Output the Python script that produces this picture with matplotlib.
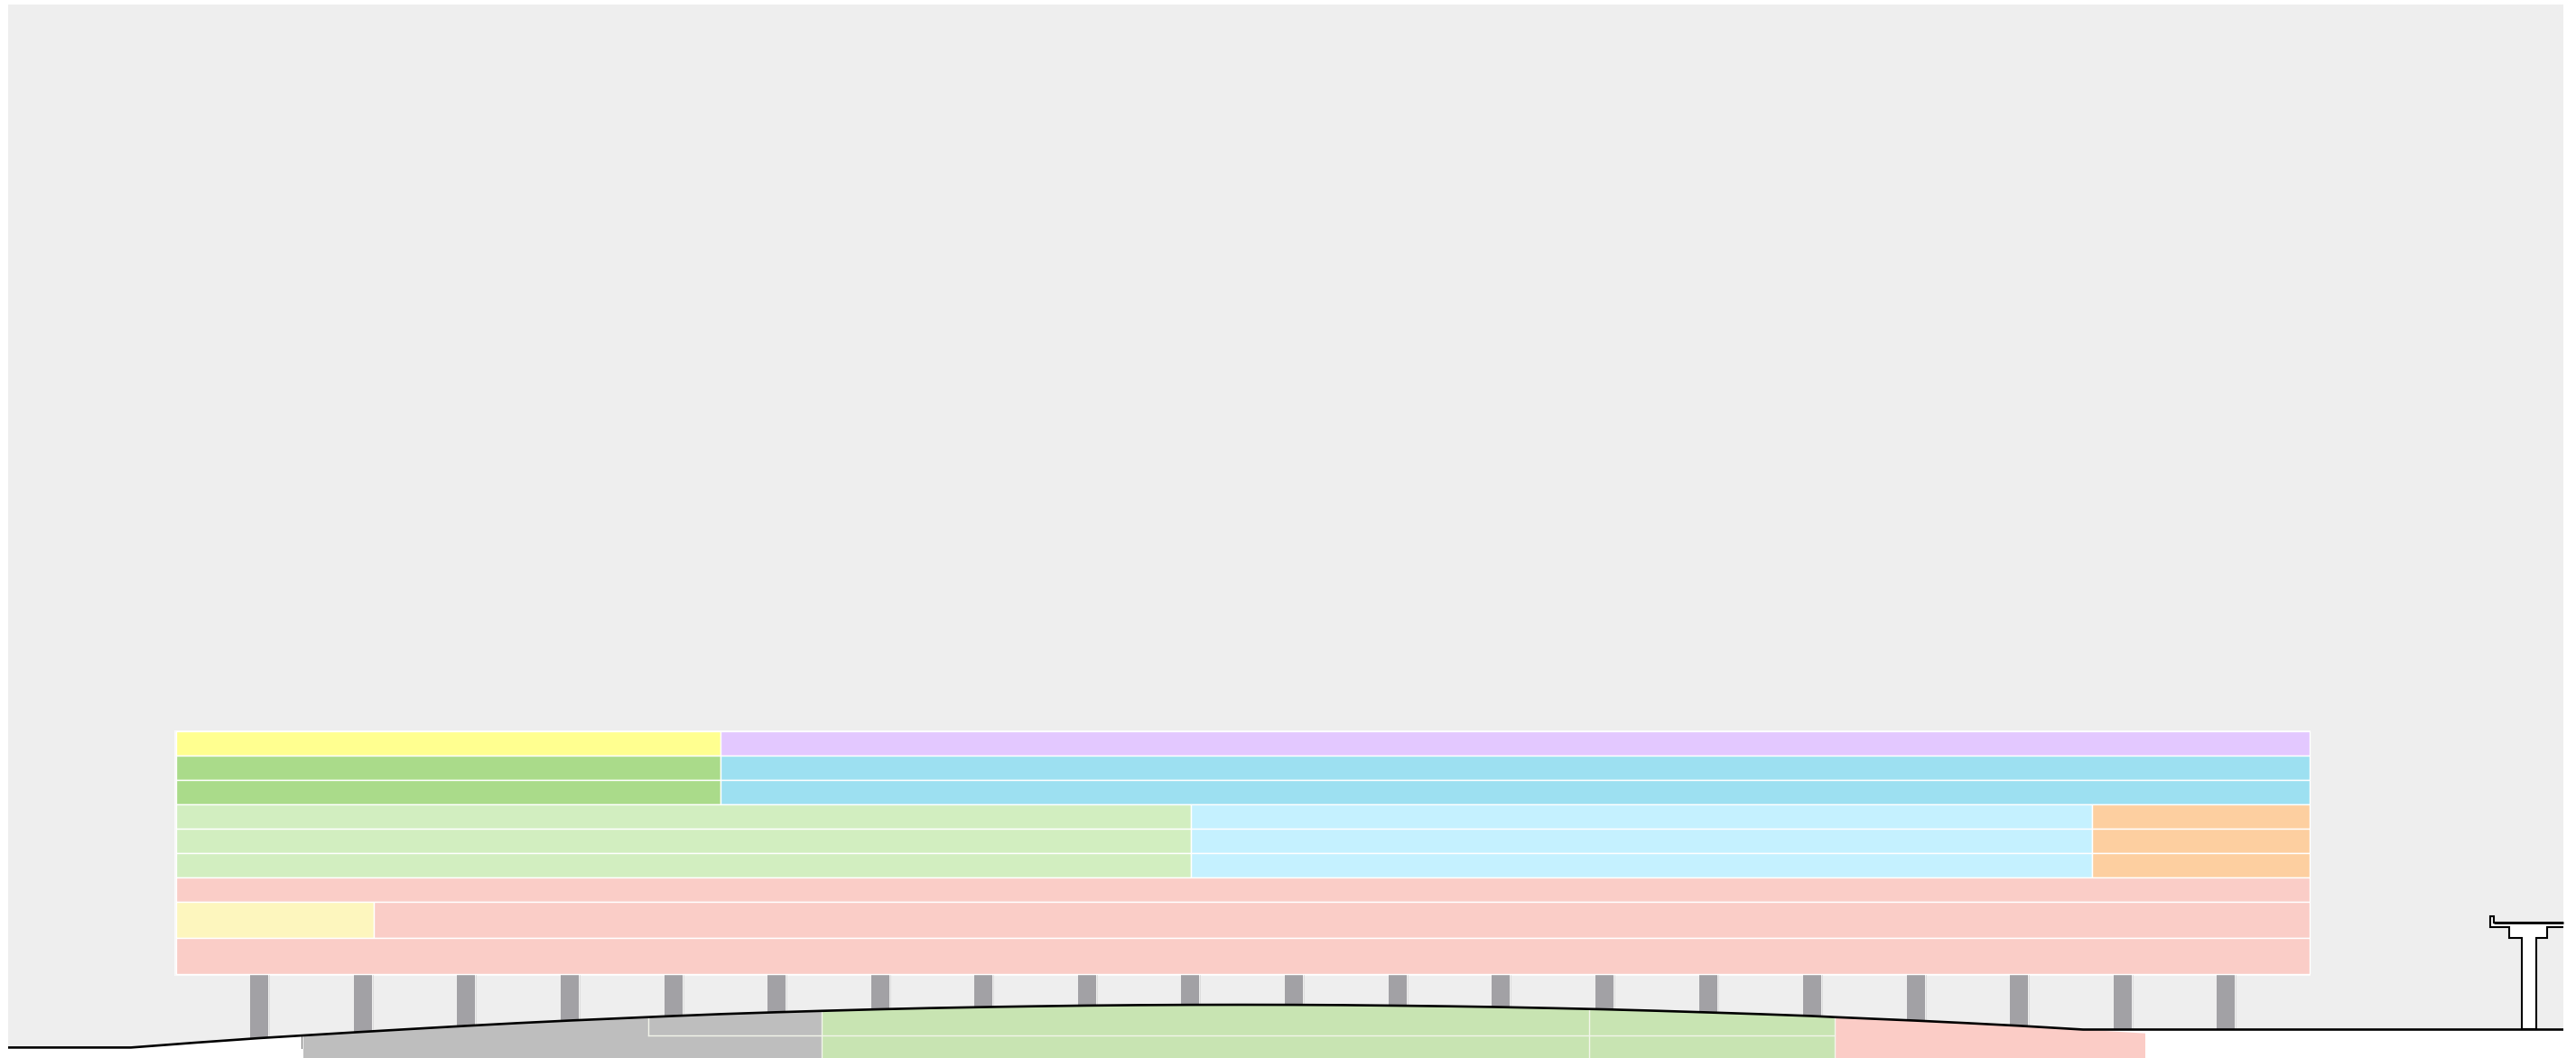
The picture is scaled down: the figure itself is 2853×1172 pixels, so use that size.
import matplotlib
matplotlib.use("Agg")
import matplotlib.pyplot as plt
from matplotlib.patches import Rectangle
import numpy as np

W, H = 2853, 1172

# Colours
BG = "#EEEEEE"
YELLOW = "#FFFF90"
CREAM = "#FDF6BE"
GREEN = "#AADB8A"
LGREEN = "#D2EEC0"
PINK = "#FACDC7"
PURPLE = "#E3C8FF"
BLUE = "#9DE0F1"
LBLUE = "#C5F1FF"
ORANGE = "#FDCFA0"
PIER = "#A2A1A5"
GREY = "#BEBEBE"
GGREEN = "#C8E4B2"
GPINK = "#FBCCC6"

# Block row edges (top to bottom)
row_edges = [810, 837, 864, 891, 918, 945, 972, 999, 1039.3, 1079.3]
# Each row: list of (x start, x end, colour)
x_left, x_a, x_y, x_b, x_c, x_right = 194.5, 797.8, 413.7, 1319, 2316.7, 2557.7
rows = [
    [(x_left, x_a, YELLOW), (x_a, x_right, PURPLE)],
    [(x_left, x_a, GREEN), (x_a, x_right, BLUE)],
    [(x_left, x_a, GREEN), (x_a, x_right, BLUE)],
    [(x_left, x_b, LGREEN), (x_b, x_c, LBLUE), (x_c, x_right, ORANGE)],
    [(x_left, x_b, LGREEN), (x_b, x_c, LBLUE), (x_c, x_right, ORANGE)],
    [(x_left, x_b, LGREEN), (x_b, x_c, LBLUE), (x_c, x_right, ORANGE)],
    [(x_left, x_right, PINK)],
    [(x_left, x_y, CREAM), (x_y, x_right, PINK)],
    [(x_left, x_right, PINK)],
]

# Piers
pier_x = [287, 402, 516, 631, 746, 860, 975, 1089, 1204, 1318, 1433, 1548, 1662,
          1777, 1892, 2007, 2122, 2236, 2351, 2465]
pier_width = 20
pier_top = 1079.3
pier_bottom = 1155

# Ground profile
ground_x = [9, 145, 215, 287, 336, 402, 460, 516, 574, 631, 717.5, 745, 800, 860, 910, 975,
            1030, 1089, 1145, 1204, 1260, 1318, 1375, 1433, 1490, 1548, 1605, 1662, 1720, 1760,
            1777, 1835, 1892, 1950, 2007, 2032, 2080, 2122, 2180, 2236, 2270, 2307, 2839]
ground_y = [1160.4, 1160.4, 1155.1, 1150, 1147, 1143, 1139.6, 1136.4, 1133.3, 1130.5, 1126.7,
            1125.5, 1123.3, 1121.3, 1119.8, 1118, 1116.7, 1115.6, 1114.7, 1113.9, 1113.4,
            1113.1, 1113, 1113.1, 1113.4, 1114, 1114.7, 1115.6, 1116.8, 1117.7, 1118.1, 1119.7,
            1121.5, 1123.4, 1125.5, 1126.7, 1128.8, 1130.6, 1133.4, 1136.3, 1138.3, 1140.5, 1140.5]

# T-shaped pier outline: from the right end of the deck, round the curb, back along the soffit
tee_x = [2839, 2761.7, 2761.7, 2757.7, 2757.7, 2779, 2779, 2793.3, 2793.3, 2809.3, 2809.3,
         2820.7, 2820.7, 2839]
tee_y = [1022.3, 1022.3, 1015, 1015, 1026.7, 1026.7, 1039, 1039, 1140, 1140, 1039,
         1039, 1026.7, 1026.7]
deck_x = [2761.7, 2839]
deck_y = [1022.3, 1022.3]

fig = plt.figure(figsize=(W / 100, H / 100), dpi=100, facecolor="white")
ax = fig.add_axes([0, 0, 1, 1])
ax.set_xlim(0, W)
ax.set_ylim(H, 0)
ax.axis("off")

ax.add_patch(Rectangle((9, 4.5), 2830, H - 4.5, fc=BG, ec="none", zorder=0))

# Blocks
ax.add_patch(Rectangle((x_left - 1.3, row_edges[0] - 1.3), x_right - x_left + 2.6,
                       row_edges[-1] - row_edges[0] + 2.6, fc="#F9F9F9", ec="none", zorder=1))
for i, row in enumerate(rows):
    for x0, x1, c in row:
        ax.add_patch(Rectangle((x0, row_edges[i]), x1 - x0, row_edges[i + 1] - row_edges[i],
                               fc=c, ec="white", lw=1.0, zorder=2))

# Piers
for p in pier_x:
    ax.add_patch(Rectangle((p - pier_width / 2, pier_top), pier_width, pier_bottom - pier_top,
                           fc=PIER, ec="none", zorder=1.5))
    ax.plot([p + pier_width / 2 + 0.5] * 2, [pier_top, pier_bottom], color="#DDDDDD", lw=0.7, zorder=1.4)

# Ground
gx = np.array(ground_x, float)
gy = np.array(ground_y, float)
ax.fill_between(gx, gy, H, fc="white", ec="none", zorder=3)
m = (gx >= 336) & (gx <= 910)
ax.fill_between(gx[m], gy[m], H, fc=GREY, ec="none", zorder=3.1)
m = (gx >= 910) & (gx <= 2032)
ax.fill_between(gx[m], gy[m], H, fc=GGREEN, ec="none", zorder=3.1)
m = (gx >= 2032) & (gx <= 2307)
pink_x = list(gx[m]) + [2376, 2376, 2032]
pink_y = list(gy[m]) + [1144.7, H, H]
ax.fill(pink_x, pink_y, fc=GPINK, ec="none", zorder=3.1)

# White section lines
sep = "#F2F5EA"
ax.plot([717.5, 717.5], [1126.7, 1146.7], color=sep, lw=1.0, zorder=3.2)
ax.plot([717.5, 2032], [1146.7, 1146.7], color=sep, lw=1.0, zorder=3.2)
ax.plot([910, 910], [1119.8, H], color=sep, lw=1.0, zorder=3.2)
ax.plot([1760, 1760], [1117.7, H], color=sep, lw=1.0, zorder=3.2)
ax.plot([2032, 2032], [1126.7, H], color=sep, lw=1.0, zorder=3.2)
ax.plot([334.3, 334.3], [1147, 1161], color="#666666", lw=0.7, zorder=3.2)

# Ground line: curved part ends where the flat part begins
ax.plot(gx, gy, color="black", lw=1.9, solid_capstyle="butt", zorder=4)

# T pier
ax.fill(tee_x, tee_y, fc="white", ec="none", zorder=4.5)
ax.plot(tee_x, tee_y, color="black", lw=1.5, solid_joinstyle="miter", solid_capstyle="butt", zorder=5)
ax.plot(deck_x, deck_y, color="black", lw=2.0, solid_capstyle="butt", zorder=5)

fig.savefig("out.png", dpi=100, facecolor="white")
